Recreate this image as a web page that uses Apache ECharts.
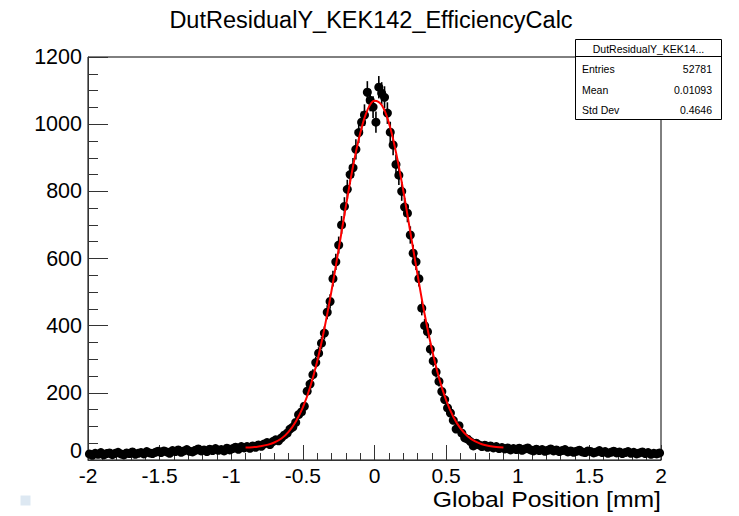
<!DOCTYPE html>
<html><head><meta charset="utf-8">
<script src="https://cdn.jsdelivr.net/npm/echarts@6/dist/echarts.min.js"></script>
<style>html,body{margin:0;padding:0;background:#fff}#c{width:739px;height:516px}</style>
</head><body><div id="c"></div>
<script>
// Histogram binning
const binLow = -2;
const binWidth = 0.02;
// Bin contents (left tail, fitted core, right tail)
const countsLeftTail = [18,14,20,17,22,15,19,21,16,20,23,18,15,21,19,24,17,20,22,18,25,21,19,23,26,
  22,27,24,20,28,25,30,23,27,31,26,24,29,33,27,30,25,32,28,34,29,31,27,35,30,
  34,38,32,40,36];
const countsCore = [40,35,42,38,45,41,48,52,46,55,60,57,66,74,80,92,98,112,135,143,160,205,226,254,290,
  318,348,378,440,472,540,590,640,700,755,806,850,870,925,975,1006,1027,1095,1071,1051,
  1006,1110,1092,1080,1033,976,938,880,848,800,753,735,670,616,590,540,452,400,382,330,
  295,262,234,204,180,155,140,118,92,102,80,66,62,55,42,50,45,40,44,38,42,36,40,34,37];
const countsRightTail = [33,36,30,34,31,35,29,33,36,30,27,32,28,31,26,29,33,27,30,25,
  28,31,24,27,23,26,29,24,22,27,25,21,24,28,22,25,20,23,26,21,
  24,19,22,25,20,23,18,21,24,19,22,17,20,18,21];
// Fit curve
const fitX = [-0.9,-0.85,-0.8,-0.75,-0.7,-0.65,-0.6,-0.55,-0.5,-0.45,-0.4,-0.35,-0.3,-0.25,-0.2,-0.15,-0.1,-0.05,0,
  0.05,0.1,0.15,0.2,0.25,0.3,0.35,0.4,0.45,0.5,0.55,0.6,0.65,0.7,0.75,0.8,0.85,0.9];
const fitY = [37,38,41,45,52,64,84,114,157,216,294,391,504,628,755,874,972,1041,1070,
  1057,1004,916,804,679,553,434,331,245,178,129,94,71,56,47,42,39,37.5];
// Texts
const chartTitle = 'DutResidualY_KEK142_EfficiencyCalc';
const xTitle = 'Global Position [mm]';
const statsHeader = 'DutResidualY_KEK14...';
const statsLabels = ['Entries', 'Mean', 'Std Dev'];
const statsValues = ['52781', '0.01093', '0.4646'];

const counts = countsLeftTail.concat(countsCore, countsRightTail);
const points = counts.map((c, i) => [binLow + (i + 0.5) * binWidth, c]);
const errs = points.map(p => [p[0], p[1] - Math.sqrt(p[1]), p[1] + Math.sqrt(p[1])]);
const fitData = fitX.map((x, i) => [x, fitY[i]]);

const FONT = "'Liberation Sans', Arial, Helvetica, sans-serif";
const chart = echarts.init(document.getElementById('c'), null, {renderer: 'svg'});

const graphics = [
  {type: 'text', x: 371, y: 20, z: 10, style: {text: chartTitle, font: '23.5px ' + FONT, fill: '#000', align: 'center', verticalAlign: 'middle', lineHeight: 24}},
  {type: 'text', x: 661, y: 499.5, scaleX: 1.1, z: 10, style: {text: xTitle, font: '22.5px ' + FONT, fill: '#000', align: 'right', verticalAlign: 'middle', lineHeight: 20}},
  {type: 'rect', shape: {x: 20.5, y: 495.5, width: 10, height: 10}, style: {fill: '#dde8f2'}},
  {type: 'rect', z: 20, shape: {x: 575.5, y: 39.5, width: 146, height: 80}, style: {fill: '#fff', stroke: '#000', lineWidth: 1}},
  {type: 'line', z: 21, shape: {x1: 575.5, y1: 56.5, x2: 721.5, y2: 56.5}, style: {stroke: '#000', lineWidth: 1}},
  {type: 'text', z: 22, x: 648.5, y: 48.5, style: {text: statsHeader, font: '10.5px ' + FONT, fill: '#000', align: 'center', verticalAlign: 'middle'}}
];
const rowY = [69, 90, 109.5];
statsLabels.forEach((t, i) => {
  graphics.push({type: 'text', z: 22, x: 582, y: rowY[i], style: {text: t, font: '10.5px ' + FONT, fill: '#000', align: 'left', verticalAlign: 'middle'}});
  graphics.push({type: 'text', z: 22, x: 712, y: rowY[i], style: {text: statsValues[i], font: '10.5px ' + FONT, fill: '#000', align: 'right', verticalAlign: 'middle'}});
});

chart.setOption({
  animation: false,
  backgroundColor: '#fff',
  grid: {left: 88, right: 78, top: 57, bottom: 56, show: true, borderColor: '#000', borderWidth: 1, backgroundColor: 'transparent'},
  xAxis: {
    type: 'value', min: -2, max: 2, interval: 0.5,
    axisLine: {onZero: false, lineStyle: {color: '#333', width: 1}},
    axisTick: {inside: true, length: 15, lineStyle: {color: '#333'}},
    minorTick: {show: true, splitNumber: 5, length: 7, lineStyle: {color: '#333'}},
    splitLine: {show: false},
    axisLabel: {color: '#000', fontSize: 21, fontFamily: FONT, margin: 7, lineHeight: 16, formatter: v => String(v)}
  },
  yAxis: {
    type: 'value', min: 0, max: 1200, interval: 200,
    axisLine: {show: true, onZero: false, lineStyle: {color: '#333', width: 1}},
    axisTick: {show: true, inside: true, length: 20, lineStyle: {color: '#333'}},
    minorTick: {show: true, splitNumber: 4, length: 10, lineStyle: {color: '#333'}},
    splitLine: {show: false},
    axisLabel: {
      color: '#000', fontSize: 21.5, fontFamily: FONT, margin: 6, lineHeight: 12,
      formatter: v => (v === 0 ? '{z|0}' : String(v)),
      rich: {z: {fontSize: 21.5, fontFamily: FONT, color: '#000', lineHeight: 12, padding: [0, 0, 18, 0]}}
    }
  },
  graphic: graphics,
  series: [
    {
      type: 'custom', data: errs, encode: {x: 0, y: [1, 2]}, z: 2, silent: true,
      renderItem: (params, api) => {
        const lo = api.coord([api.value(0), api.value(1)]);
        const hi = api.coord([api.value(0), api.value(2)]);
        return {type: 'line', shape: {x1: lo[0], y1: lo[1], x2: hi[0], y2: hi[1]}, style: {stroke: '#000', lineWidth: 1.6}};
      }
    },
    {type: 'scatter', data: points, symbol: 'circle', symbolSize: 9, itemStyle: {color: '#000', opacity: 1}, z: 3, silent: true},
    {type: 'line', data: fitData, showSymbol: false, smooth: 0.4, lineStyle: {color: '#ff0000', width: 2}, z: 5, silent: true}
  ]
});
</script>
</body></html>
